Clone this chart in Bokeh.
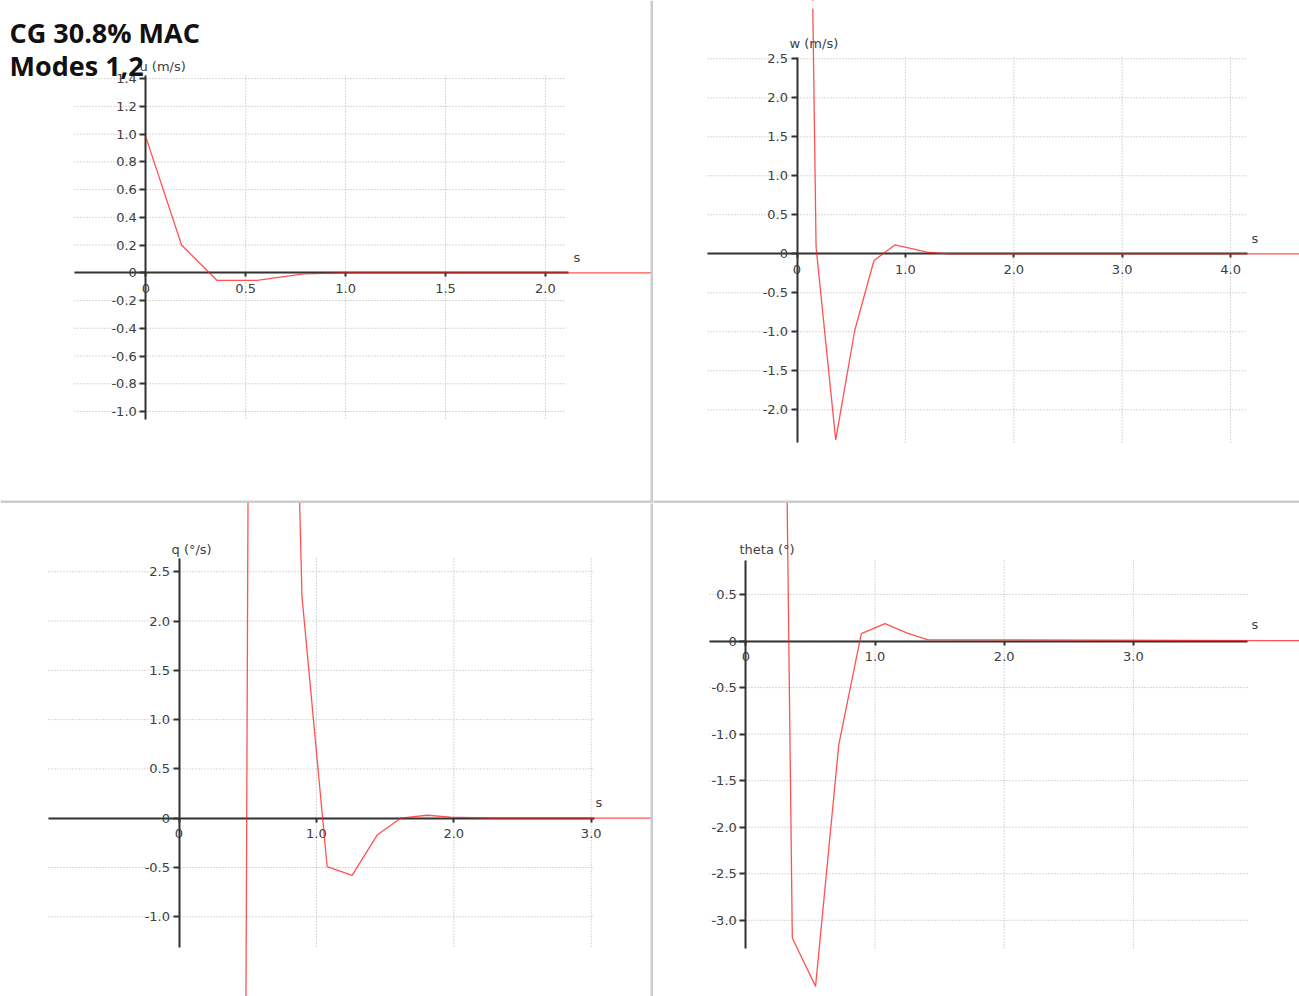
from bokeh.plotting import figure
from bokeh.models import Range1d, FixedTicker, Label, CustomJSTickFormatter, BoxAnnotation, Span
from bokeh.layouts import gridplot
from bokeh.embed import file_html
from bokeh.resources import INLINE

# ---------------- data ----------------
t_u = [0.0, 0.179, 0.357, 0.557, 0.79, 1.0, 5.0]
u_ms = [0.98, 0.20, -0.055, -0.055, -0.008, 0.0, 0.0]

t_w = [0.0, 0.176, 0.357, 0.533, 0.71, 0.905, 1.2, 1.4, 5.0]
w_ms = [18.0, 0.085, -2.385, -0.98, -0.086, 0.115, 0.02, 0.0, 0.0]

t_q = [0.0, 0.18, 0.36, 0.54, 0.72, 0.895, 1.078, 1.26, 1.443, 1.612, 1.806, 1.976, 2.3, 5.0]
q_degs = [-5.0, -20.0, -45.0, 16.0, 12.0, 2.25, -0.49, -0.58, -0.17, 0.0, 0.03, 0.01, 0.0, 0.0]

t_theta = [0.0, 0.178, 0.36, 0.54, 0.72, 0.894, 1.077, 1.25, 1.405, 5.0]
theta_deg = [12.0, 18.2, -3.19, -3.71, -1.11, 0.08, 0.187, 0.085, 0.015, 0.0]

u_xticks = [0.0, 0.5, 1.0, 1.5, 2.0]
u_yticks = [-1.0, -0.8, -0.6, -0.4, -0.2, 0.0, 0.2, 0.4, 0.6, 0.8, 1.0, 1.2, 1.4]
w_xticks = [0.0, 1.0, 2.0, 3.0, 4.0]
w_yticks = [-2.0, -1.5, -1.0, -0.5, 0.0, 0.5, 1.0, 1.5, 2.0, 2.5]
q_xticks = [0.0, 1.0, 2.0, 3.0]
q_yticks = [-1.0, -0.5, 0.0, 0.5, 1.0, 1.5, 2.0, 2.5]
th_xticks = [0.0, 1.0, 2.0, 3.0]
th_yticks = [-3.0, -2.5, -2.0, -1.5, -1.0, -0.5, 0.0, 0.5]

title_lines = ["CG 30.8% MAC", "Modes 1,2"]

# ---------------- styling ----------------
LABEL_FONT = "DejaVu Sans"
LABEL_COLOR = "#404040"
AXIS_COLOR = "#333333"
GRID_COLOR = "#b2b2b2"
CURVE_COLOR = "#ff1a1a"
DIVIDER_COLOR = "#cccccc"

fmt = CustomJSTickFormatter(code="return Math.abs(tick) < 1e-9 ? '0' : tick.toFixed(1);")


def panel(W, H, clip_top, x0, xs, y0, ys, t, v, xticks, yticks, xb, yb, gx_end,
          name, name_px, s_px, div_right=None, div_bottom=None):
    fx = lambda px: (px - x0) / xs
    fy = lambda py: (y0 - py) / ys
    xr = Range1d(fx(0), fx(W))
    yr = Range1d(fy(H), fy(0))
    p = figure(width=W, height=H, x_range=xr, y_range=yr, title=None,
               output_backend="svg", toolbar_location=None,
               min_border=0, outline_line_color=None,
               background_fill_color="white", border_fill_color="white")
    p.grid.visible = False

    # dotted grid limited to the chart area
    p.segment(x0=[fx(xb[0])] * len(yticks), y0=yticks, x1=[fx(gx_end)] * len(yticks), y1=yticks,
              line_color=GRID_COLOR, line_width=1, line_dash="1 2")
    p.segment(x0=xticks, y0=[fy(yb[0])] * len(xticks), x1=xticks, y1=[fy(yb[1])] * len(xticks),
              line_color=GRID_COLOR, line_width=1, line_dash="1 2")

    for ax in (p.xaxis[0], p.yaxis[0]):
        ax.fixed_location = 0
        ax.axis_line_color = AXIS_COLOR
        ax.axis_line_width = 2
        ax.major_tick_line_color = AXIS_COLOR
        ax.major_tick_line_width = 2
        ax.minor_tick_line_color = None
        ax.major_tick_in = 0
        ax.major_label_text_font = LABEL_FONT
        ax.major_label_text_font_size = "13px"
        ax.major_label_text_color = LABEL_COLOR
        ax.formatter = fmt
    xa, ya = p.xaxis[0], p.yaxis[0]
    xa.bounds = (fx(xb[0]), fx(xb[1]))
    ya.bounds = (fy(yb[1]), fy(yb[0]))
    xa.ticker = FixedTicker(ticks=xticks)
    ya.ticker = FixedTicker(ticks=yticks)
    xa.major_tick_out = 4
    xa.major_label_standoff = 7
    xa.major_label_text_align = "left"
    ya.major_tick_out = 6
    ya.major_label_standoff = 3

    r = p.line(t, v, line_color=CURVE_COLOR, line_width=1.3, line_alpha=0.75)
    r.level = "annotation"

    if clip_top > 0:
        box = BoxAnnotation(top=fy(0), bottom=fy(clip_top), fill_color="white", fill_alpha=1.0,
                            line_color=None)
        box.level = "overlay"
        p.add_layout(box)

    if div_right is not None:
        sp = Span(location=fx(div_right), dimension="height", line_color=DIVIDER_COLOR, line_width=3)
        sp.level = "overlay"
        p.add_layout(sp)
    if div_bottom is not None:
        sp = Span(location=fy(div_bottom), dimension="width", line_color=DIVIDER_COLOR, line_width=3)
        sp.level = "overlay"
        p.add_layout(sp)

    p.add_layout(Label(x=fx(name_px[0]), y=fy(name_px[1]), text=name, text_font=LABEL_FONT,
                       text_font_size="13px", text_color=LABEL_COLOR,
                       text_align="left", text_baseline="middle"))
    p.add_layout(Label(x=fx(s_px[0]), y=fy(s_px[1]), text="s", text_font=LABEL_FONT,
                       text_font_size="13px", text_color=LABEL_COLOR,
                       text_align="left", text_baseline="middle"))
    return p, fx, fy


p1, fx1, fy1 = panel(653, 503, 0, 145.3, 199.8, 272.3, 138.7, t_u, u_ms, u_xticks, u_yticks,
                     (74, 568), (75, 419), 566, "u (m/s)", (139, 66), (573, 257),
                     div_right=651.5, div_bottom=501.5)
p2, _, _ = panel(646, 503, 8, 143.5, 108.4, 253.3, 78.0, t_w, w_ms, w_xticks, w_yticks,
                 (54, 594), (57, 442), 594, "w (m/s)", (136, 43), (598, 238),
                 div_bottom=501.5)
p3, _, _ = panel(653, 493, 0, 178.5, 137.4, 314.7, 98.6, t_q, q_degs, q_xticks, q_yticks,
                 (48, 594), (55, 444), 592, "q (°/s)", (171, 46), (595, 299),
                 div_right=651.5)
p4, _, _ = panel(646, 493, 0, 92.3, 129.2, 137.5, 93.1, t_theta, theta_deg, th_xticks, th_yticks,
                 (56, 594), (57, 445), 594, "theta (°)", (86, 46), (598, 121))

for i, line in enumerate(title_lines):
    p1.add_layout(Label(x=fx1(9), y=fy1(32 + 33 * i), text=line, text_font="Open Sans",
                        text_font_size="27px", text_font_style="bold", text_color="#111111",
                        text_align="left", text_baseline="alphabetic"))

grid = gridplot([[p1, p2], [p3, p4]], toolbar_location=None)

open("out.html", "w").write(file_html(grid, INLINE))
